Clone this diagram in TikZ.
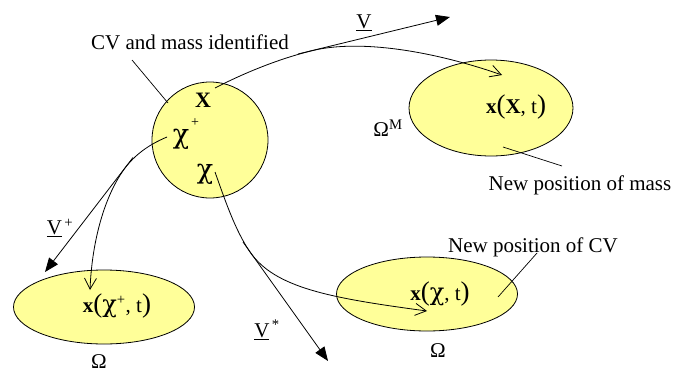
\documentclass[tikz,border=0pt]{standalone}
\usepackage{fontspec}
\setmainfont{Liberation Serif}
\newfontfamily\chifont{DejaVu Serif}
\usetikzlibrary{arrows.meta,shapes.geometric}
\definecolor{blobfill}{RGB}{255,255,153}
\newcommand{\bigpar}[1]{{\fontsize{27}{30}\selectfont #1}}
\newcommand{\chisym}{{\chifont χ}}
\begin{document}
\begin{tikzpicture}[x=1pt,y=-1pt,
  blob/.style={draw,fill=blobfill,line width=0.8pt,inner sep=0pt},
  lbl/.style={font=\fontsize{21}{24}\selectfont,inner sep=0pt},
  sym/.style={font=\fontsize{27}{30}\selectfont,inner sep=0pt},
  conn/.style={line width=0.7pt},
  vel/.style={line width=0.8pt,-{Triangle[length=14pt,width=11pt]}},
  traj/.style={line width=0.8pt,-{Straight Barb[length=11pt,width=12pt]}}]
\useasboundingbox (0,0) rectangle (685,372);
% regions
\node[blob,circle,minimum size=116pt] (cv) at (210,140) {};
\node[blob,ellipse,minimum width=164pt,minimum height=96pt] (om) at (491,108) {};
\node[blob,ellipse,minimum width=181pt,minimum height=74pt] (op) at (104,307) {};
\node[blob,ellipse,minimum width=181pt,minimum height=74pt] (os) at (427,294) {};
% symbols in the CV
\node[lbl,font=\fontsize{22}{24}\selectfont\bfseries] (X) at (203,100) {X};
\node[sym] (chip) at (181,139) {\chisym};
\node[font=\fontsize{14}{16}\selectfont,inner sep=0pt] (chipplus) at (195,123) {+};
\node[sym] (chi) at (205,174) {\chisym};
% labels
\node[lbl] (cvlab) at (190,42) {CV and mass identified};
\node[lbl] (masslab) at (580,185) {New position of mass};
\node[lbl] (cvnlab) at (533,247) {New position of CV};
\node[lbl] (omM) at (388,128) {Ω\textsuperscript{M}};
\node[lbl] (om1) at (99,362) {Ω};
\node[lbl] (om2) at (438,351) {Ω};
\node[lbl] (xX) at (516,107) {\textbf{x}\bigpar{(}\textbf{X}, t\bigpar{)}};
\node[lbl] (xchip) at (117,306) {\textbf{x}\bigpar{(}{\fontsize{24}{27}\selectfont\chisym}\textsuperscript{+}, t\bigpar{)}};
\node[lbl] (xchi) at (440,294) {\textbf{x}\bigpar{(}{\fontsize{24}{27}\selectfont\chisym}, t\bigpar{)}};
\node[lbl] (vlab) at (364,23) {\underline{V}};
\node[lbl] (vplab) at (60,228) {\underline{V}\textsuperscript{\,+}};
\node[lbl] (vslab) at (267,330) {\underline{V}\textsuperscript{\,*}};
% annotation leaders
\coordinate (a1) at (132,60); \coordinate (a2) at (168,103);
\coordinate (b1) at (503,147); \coordinate (b2) at (562,166);
\coordinate (c1) at (498,297); \coordinate (c2) at (537,253);
\draw[conn] (a1) -- (a2);
\draw[conn] (b1) -- (b2);
\draw[conn] (c1) -- (c2);
% top: mass trajectory and velocity V
\coordinate (Xs) at (215,88); \coordinate (Xt) at (315,50); \coordinate (Xe) at (502,75);
\coordinate (Vs) at (298,54); \coordinate (Ve) at (450,17);
\draw[traj] (Xs) .. controls (250,70) and (285,57) .. (Xt) .. controls (360,40) and (430,50) .. (Xe);
\draw[vel] (Vs) -- (Ve);
% left: chi+ trajectory and V+
\coordinate (Ps) at (167,137); \coordinate (Pt) at (125,168); \coordinate (Pe) at (90,290);
\coordinate (VPs) at (133,157.5); \coordinate (VPe) at (45,272);
\draw[traj] (Ps) .. controls (148,145) and (135,155) .. (Pt) .. controls (105,195) and (92,240) .. (Pe);
\draw[vel] (VPs) -- (VPe);
% bottom: chi trajectory and V*
\coordinate (Ss) at (215,172); \coordinate (St) at (250,252); \coordinate (Se) at (427,311);
\coordinate (VSs) at (243,242); \coordinate (VSe) at (328,361);
\draw[traj] (Ss) .. controls (225,200) and (235,230) .. (St) .. controls (275,288) and (330,298) .. (Se);
\draw[vel] (VSs) -- (VSe);
\end{tikzpicture}
\end{document}
